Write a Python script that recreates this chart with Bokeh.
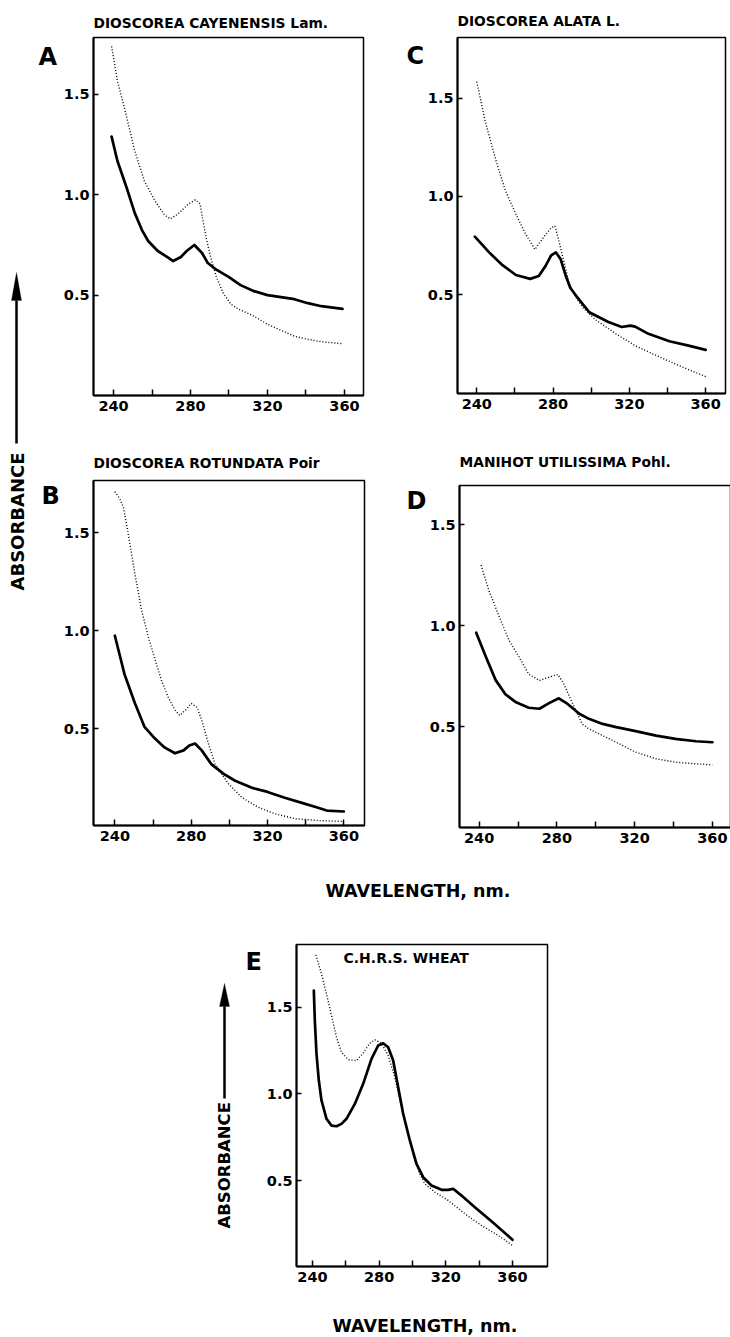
from bokeh.plotting import figure
from bokeh.models import (Range1d, FixedTicker, PrintfTickFormatter, Label, Arrow,
                          PolyAnnotation, ColumnDataSource)
from bokeh.layouts import row, column
from bokeh.embed import file_html
from bokeh.resources import INLINE

# ---------------- data ----------------
x_ticks = [240, 280, 320, 360]
x_minor_ticks = [260, 300, 340]
y_ticks = [0.5, 1.0, 1.5]

titles = {
    "A": "DIOSCOREA CAYENENSIS Lam.",
    "C": "DIOSCOREA ALATA L.",
    "B": "DIOSCOREA ROTUNDATA Poir",
    "D": "MANIHOT UTILISSIMA Pohl.",
    "E": "C.H.R.S. WHEAT",
}
x_label = "WAVELENGTH, nm."
y_label = "ABSORBANCE"

a_wl_solid = [239, 242, 247, 251, 255, 258, 263, 268, 271, 275, 278, 282, 286, 289, 293,
              300, 306, 313, 320, 327, 334, 341, 348, 355, 359]
a_abs_solid = [1.29, 1.17, 1.03, 0.91, 0.82, 0.77, 0.72, 0.69, 0.67, 0.69, 0.72, 0.75, 0.71,
               0.66, 0.63, 0.59, 0.55, 0.52, 0.50, 0.49, 0.48, 0.46, 0.445, 0.437, 0.432]
a_wl_dotted = [239, 242, 246, 251, 256, 261.5, 266.5, 269.5, 273.5, 279, 282.5, 285, 286.5,
               288.5, 291, 293.5, 297, 301, 305, 312, 320, 327, 334, 341, 348, 359]
a_abs_dotted = [1.74, 1.57, 1.42, 1.22, 1.07, 0.97, 0.90, 0.88, 0.905, 0.955, 0.975, 0.955,
                0.87, 0.77, 0.67, 0.59, 0.51, 0.455, 0.43, 0.40, 0.355, 0.325, 0.295, 0.28,
                0.268, 0.258]

c_wl_solid = [239, 246.5, 253.5, 260.5, 268, 272.5, 276, 279, 281.5, 284, 286.5, 289, 292,
              299, 309, 316, 320.5, 323, 330, 341, 351, 360]
c_abs_solid = [0.795, 0.715, 0.65, 0.60, 0.58, 0.595, 0.645, 0.70, 0.715, 0.68, 0.60, 0.535,
               0.495, 0.41, 0.36, 0.335, 0.342, 0.337, 0.30, 0.262, 0.24, 0.218]
c_wl_dotted = [240, 244.5, 250, 255, 260.5, 265.5, 270.5, 274.5, 279, 281, 283, 286, 288.5,
               292, 295.5, 302.5, 313, 323, 334, 344, 351, 360]
c_abs_dotted = [1.585, 1.38, 1.185, 1.03, 0.91, 0.81, 0.73, 0.785, 0.84, 0.85, 0.775, 0.655,
                0.555, 0.485, 0.435, 0.37, 0.30, 0.24, 0.19, 0.147, 0.118, 0.082]

b_wl_solid = [240, 245, 250.5, 255.5, 261, 266, 271.5, 276, 279, 282, 285.5, 290.5, 297, 303,
              311.5, 320, 329, 338, 346.5, 351, 360]
b_abs_solid = [0.975, 0.78, 0.63, 0.51, 0.45, 0.405, 0.375, 0.39, 0.415, 0.425, 0.39, 0.32,
               0.27, 0.235, 0.20, 0.178, 0.148, 0.122, 0.097, 0.083, 0.078]
b_wl_dotted = [240, 242.5, 244.5, 247, 250.5, 254, 257.5, 261, 264.5, 268, 271.5, 274, 277.5,
               280, 283, 285.5, 289, 292.5, 296, 299.5, 306.5, 315, 324, 334.5, 346.5, 360]
b_abs_dotted = [1.71, 1.675, 1.63, 1.495, 1.29, 1.105, 0.97, 0.855, 0.745, 0.66, 0.595, 0.568,
                0.60, 0.63, 0.61, 0.545, 0.425, 0.32, 0.27, 0.22, 0.15, 0.10, 0.066, 0.041,
                0.032, 0.027]

d_wl_solid = [238.5, 243.5, 248.5, 253.5, 259, 265.5, 271, 276, 281, 285.5, 291.5, 296.5,
              303.5, 310.5, 320.5, 331, 341, 351.5, 360]
d_abs_solid = [0.965, 0.845, 0.73, 0.66, 0.62, 0.593, 0.588, 0.616, 0.64, 0.612, 0.563, 0.538,
               0.513, 0.497, 0.477, 0.455, 0.439, 0.427, 0.422]
d_wl_dotted = [241, 245, 250.5, 255.5, 260.5, 265.5, 271, 276, 280.5, 283.5, 287, 290.5, 293,
               296.5, 303.5, 310.5, 320.5, 331, 341, 351.5, 360]
d_abs_dotted = [1.30, 1.175, 1.04, 0.925, 0.845, 0.76, 0.728, 0.745, 0.758, 0.712, 0.637,
                0.563, 0.513, 0.488, 0.455, 0.422, 0.373, 0.34, 0.323, 0.315, 0.31]

e_wl_solid = [240.8, 241.4, 242.4, 243.8, 245.4, 248.4, 251.4, 254.4, 257.4, 260.4, 265.4,
              270.4, 275.4, 279.4, 282.4, 285.4, 288.4, 291.4, 294.4, 298.4, 302.4, 306.4,
              311.4, 317.4, 321.4, 324.4, 329.4, 337.4, 347.4, 360]
e_abs_solid = [1.596, 1.423, 1.231, 1.077, 0.962, 0.856, 0.817, 0.813, 0.827, 0.856, 0.942,
               1.058, 1.202, 1.279, 1.292, 1.269, 1.192, 1.038, 0.885, 0.731, 0.596, 0.519,
               0.471, 0.446, 0.446, 0.452, 0.413, 0.346, 0.265, 0.158]
e_wl_dotted = [242, 245.4, 248.4, 251.4, 254.4, 257.4, 261.4, 266.4, 270.4, 274.4, 277.4,
               281.4, 285.4, 289.4, 293.4, 297.4, 301.4, 304.4, 307.4, 313.4, 321.4, 331.4,
               341.4, 351.4, 360]
e_abs_dotted = [1.802, 1.692, 1.577, 1.452, 1.327, 1.24, 1.198, 1.192, 1.235, 1.292, 1.312,
                1.292, 1.221, 1.096, 0.923, 0.769, 0.615, 0.538, 0.481, 0.433, 0.385, 0.308,
                0.24, 0.183, 0.125]

# ---------------- styling / layout ----------------
FONT = "DejaVu Sans"
INK = "black"
TICK_FONT = "14.5px"
TITLE_FONT = "13.8px"
LETTER_FONT = "24px"
XLABEL_FONT = "17.5px"
ROT = 1.5707963


def make_panel(fw, fh, left, right, top, bottom, xr, yr):
    p = figure(frame_width=fw, frame_height=fh,
               min_border_left=left, min_border_right=right,
               min_border_top=top, min_border_bottom=bottom,
               x_range=Range1d(*xr), y_range=Range1d(*yr),
               output_backend="svg", toolbar_location=None, tools="")
    p.grid.visible = False
    p.outline_line_color = INK
    p.outline_line_width = 1.5
    p.background_fill_color = "white"
    p.border_fill_color = "white"

    xa = p.xaxis[0]
    xa.ticker = FixedTicker(ticks=x_ticks, minor_ticks=x_minor_ticks)
    xa.major_tick_in = 6
    xa.major_tick_out = 0
    xa.minor_tick_in = 6
    xa.minor_tick_out = 0
    xa.axis_line_width = 2
    xa.major_tick_line_width = 1.5
    xa.minor_tick_line_width = 1.5
    xa.major_label_standoff = 5

    ya = p.yaxis[0]
    ya.ticker = FixedTicker(ticks=y_ticks, minor_ticks=[])
    ya.formatter = PrintfTickFormatter(format="%.1f")
    ya.major_tick_in = 5
    ya.major_tick_out = 0
    ya.minor_tick_in = 0
    ya.minor_tick_out = 0
    ya.axis_line_width = 2
    ya.major_tick_line_width = 1.5
    ya.major_label_standoff = 4

    for ax in (xa, ya):
        ax.axis_line_color = INK
        ax.major_tick_line_color = INK
        ax.minor_tick_line_color = INK
        ax.major_label_text_font = FONT
        ax.major_label_text_font_style = "bold"
        ax.major_label_text_font_size = TICK_FONT
        ax.major_label_text_color = INK
    return p


def text_canvas(fw, fh, left=0, right=0, top=0, bottom=0):
    """A blank figure that only carries texts. Its borders equal those of the panel
    it is stacked with, so that the layout's frame alignment changes nothing."""
    t = figure(frame_width=fw, frame_height=fh,
               min_border_left=left, min_border_right=right,
               min_border_top=top, min_border_bottom=bottom,
               x_range=Range1d(0, 1), y_range=Range1d(0, 1),
               x_axis_type=None, y_axis_type=None,
               output_backend="svg", toolbar_location=None, tools="")
    t.outline_line_color = None
    t.background_fill_color = "white"
    t.border_fill_color = "white"
    return t


def add_curves(p, wl_s, ab_s, wl_d, ab_d):
    p.line(x="wl", y="ab", source=ColumnDataSource(dict(wl=wl_d, ab=ab_d)),
           line_color=INK, line_width=1.4, line_dash="1 2")
    p.line(x="wl", y="ab", source=ColumnDataSource(dict(wl=wl_s, ab=ab_s)),
           line_color=INK, line_width=2.7, line_join="round", line_cap="round")


def add_text(p, x, y, text, size, align="left", angle=0.0, baseline="alphabetic"):
    p.add_layout(Label(x=x, y=y, x_units="screen", y_units="screen", text=text,
                       text_font=FONT, text_font_style="bold", text_font_size=size,
                       text_color=INK, text_align=align, text_baseline=baseline,
                       angle=angle))


def add_arrow(p, x, y_tip, y_base, y_end, half_w):
    p.add_layout(PolyAnnotation(xs=[x, x - half_w, x + half_w], ys=[y_tip, y_base, y_base],
                                xs_units="screen", ys_units="screen",
                                fill_color=INK, fill_alpha=1.0, line_color=INK,
                                line_width=1))
    p.add_layout(Arrow(end=None, x_start=x, y_start=y_base, x_end=x, y_end=y_end,
                       start_units="screen", end_units="screen",
                       line_color=INK, line_width=2.5))


# ---- left strip: shared ABSORBANCE label + letters A and B
left_strip = text_canvas(60, 870)
add_text(left_strip, 17, 280, y_label, "18px", angle=ROT, baseline="middle")
add_arrow(left_strip, 16, 598, 570, 427, 5)
add_text(left_strip, 38, 814, "A", LETTER_FONT)
add_text(left_strip, 41, 375, "B", LETTER_FONT)

# ---- panel A
headA = text_canvas(270, 35, left=32, right=38)
add_text(headA, 0, 13, titles["A"], TITLE_FONT)
pA = make_panel(270, 358, 32, 38, 2, 35, (229.6, 369.9), (0.0, 1.784))
add_curves(pA, a_wl_solid, a_abs_solid, a_wl_dotted, a_abs_dotted)

# ---- panel C
stripC = text_canvas(23, 430)
add_text(stripC, 5, 375, "C", LETTER_FONT)
headC = text_canvas(268, 35, left=32, right=7)
add_text(headC, 0, 15, titles["C"], TITLE_FONT)
pC = make_panel(268, 356, 32, 7, 2, 37, (229.9, 370.4), (-0.004, 1.810))
add_curves(pC, c_wl_solid, c_abs_solid, c_wl_dotted, c_abs_dotted)

# ---- panel B
headB = text_canvas(271, 48, left=32, right=37)
add_text(headB, 0, 16, titles["B"], TITLE_FONT)
pB = make_panel(271, 345, 32, 37, 2, 45, (228.8, 370.8), (0.0066, 1.767))
add_curves(pB, b_wl_solid, b_abs_solid, b_wl_dotted, b_abs_dotted)

# ---- panel D
stripD = text_canvas(25, 440)
add_text(stripD, 5, 370, "D", LETTER_FONT)
headD = text_canvas(271, 53, left=32, right=2)
add_text(headD, 0, 21.5, titles["D"], TITLE_FONT)
pD = make_panel(271, 342, 32, 2, 2, 43, (229.9, 369.3), (-0.0007, 1.695))
add_curves(pD, d_wl_solid, d_abs_solid, d_wl_dotted, d_abs_dotted)

# ---- shared x label between the two groups
mid_text = text_canvas(730, 65)
add_text(mid_text, 417.5, 45, x_label, XLABEL_FONT, align="center")

# ---- panel E
stripE = text_canvas(263, 322, top=9, bottom=34)
add_text(stripE, 245, 305, "E", LETTER_FONT)
add_text(stripE, 224, 38, y_label, "16.5px", angle=ROT, baseline="middle")
add_arrow(stripE, 224, 283, 260, 168, 5)
pE = make_panel(251, 322, 32, 14, 9, 34, (230.4, 381.0), (0.0037, 1.862))
add_curves(pE, e_wl_solid, e_abs_solid, e_wl_dotted, e_abs_dotted)
add_text(pE, 47, 308.5, titles["E"], "14px")

bottom_text = text_canvas(730, 36)
add_text(bottom_text, 424.5, 11, x_label, XLABEL_FONT, align="center")

layout = column(
    row(left_strip,
        column(row(column(headA, pA), stripC, column(headC, pC)),
               row(column(headB, pB), stripD, column(headD, pD)))),
    mid_text,
    row(stripE, pE),
    bottom_text,
)

open("out.html", "w").write(file_html(layout, INLINE))
